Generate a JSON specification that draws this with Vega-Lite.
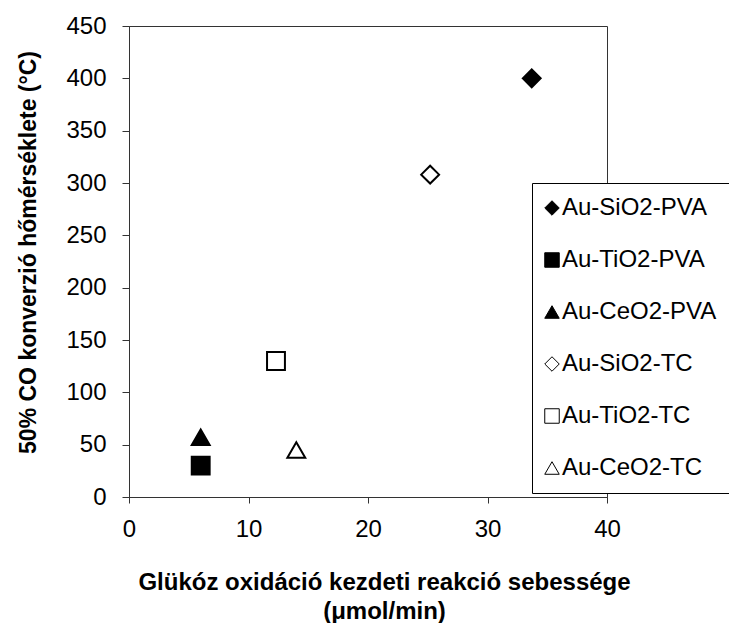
{
  "$schema": "https://vega.github.io/schema/vega-lite/v6.json",
  "width": 478,
  "height": 471,
  "autosize": {"type": "none"},
  "padding": {"left": 129, "top": 26, "right": 122, "bottom": 126},
  "background": "white",
  "config": {
    "font": "Liberation Sans",
    "view": {"stroke": "#333", "strokeWidth": 1},
    "axis": {
      "grid": false,
      "domainColor": "#333",
      "tickColor": "#333",
      "labelColor": "#000",
      "titleColor": "#000",
      "labelFont": "Liberation Sans",
      "titleFont": "Liberation Sans",
      "labelFontSize": 24,
      "titleFontSize": 24,
      "titleFontWeight": "bold"
    },
    "legend": {
      "orient": "none",
      "legendX": 403,
      "legendY": 157,
      "padding": 13,
      "strokeColor": "black",
      "fillColor": "white",
      "rowPadding": 28,
      "labelFontSize": 24,
      "labelFont": "Liberation Sans",
      "labelColor": "#000",
      "labelLimit": 400,
      "labelOffset": -2,
      "symbolOffset": -5,
      "symbolSize": 210,
      "symbolStrokeWidth": 1
    }
  },
  "data": {
    "values": [
      {"series": "Au-SiO2-PVA", "rate": 33.7, "temp": 400},
      {"series": "Au-TiO2-PVA", "rate": 6.0, "temp": 30},
      {"series": "Au-CeO2-PVA", "rate": 6.0, "temp": 57},
      {"series": "Au-SiO2-TC", "rate": 25.2, "temp": 308},
      {"series": "Au-TiO2-TC", "rate": 12.3, "temp": 130},
      {"series": "Au-CeO2-TC", "rate": 14.0, "temp": 45}
    ]
  },
  "mark": {"type": "point", "filled": true, "strokeWidth": 2, "size": 320, "opacity": 1},
  "encoding": {
    "x": {
      "field": "rate",
      "type": "quantitative",
      "scale": {"domain": [0, 40], "nice": false, "zero": true},
      "axis": {
        "values": [0, 10, 20, 30, 40],
        "tickSize": 6,
        "labelPadding": 14,
        "labelFlush": false,
        "title": ["Glükóz oxidáció kezdeti reakció sebessége", "(μmol/min)"],
        "titleX": 255,
        "titleY": 92,
        "titleAlign": "center",
        "titleAnchor": "middle",
        "titleBaseline": "alphabetic",
        "titleLineHeight": 29
      }
    },
    "y": {
      "field": "temp",
      "type": "quantitative",
      "scale": {"domain": [0, 450], "nice": false},
      "axis": {
        "values": [0, 50, 100, 150, 200, 250, 300, 350, 400, 450],
        "tickSize": 7,
        "labelPadding": 16,
        "labelFlush": false,
        "title": "50% CO konverzió hőmérséklete (°C)",
        "titleAngle": -90,
        "titleX": -101,
        "titleY": 226,
        "titleAlign": "center",
        "titleBaseline": "middle",
        "titleFontSize": 23
      }
    },
    "shape": {
      "field": "series",
      "type": "nominal",
      "scale": {
        "domain": ["Au-SiO2-PVA", "Au-TiO2-PVA", "Au-CeO2-PVA", "Au-SiO2-TC", "Au-TiO2-TC", "Au-CeO2-TC"],
        "range": ["diamond", "square", "triangle-up", "diamond", "square", "triangle-up"]
      },
      "legend": {"title": null}
    },
    "fill": {
      "field": "series",
      "type": "nominal",
      "scale": {
        "domain": ["Au-SiO2-PVA", "Au-TiO2-PVA", "Au-CeO2-PVA", "Au-SiO2-TC", "Au-TiO2-TC", "Au-CeO2-TC"],
        "range": ["black", "black", "black", "white", "white", "white"]
      },
      "legend": {"title": null}
    },
    "stroke": {
      "field": "series",
      "type": "nominal",
      "scale": {
        "domain": ["Au-SiO2-PVA", "Au-TiO2-PVA", "Au-CeO2-PVA", "Au-SiO2-TC", "Au-TiO2-TC", "Au-CeO2-TC"],
        "range": ["black", "black", "black", "black", "black", "black"]
      },
      "legend": {"title": null}
    }
  }
}
